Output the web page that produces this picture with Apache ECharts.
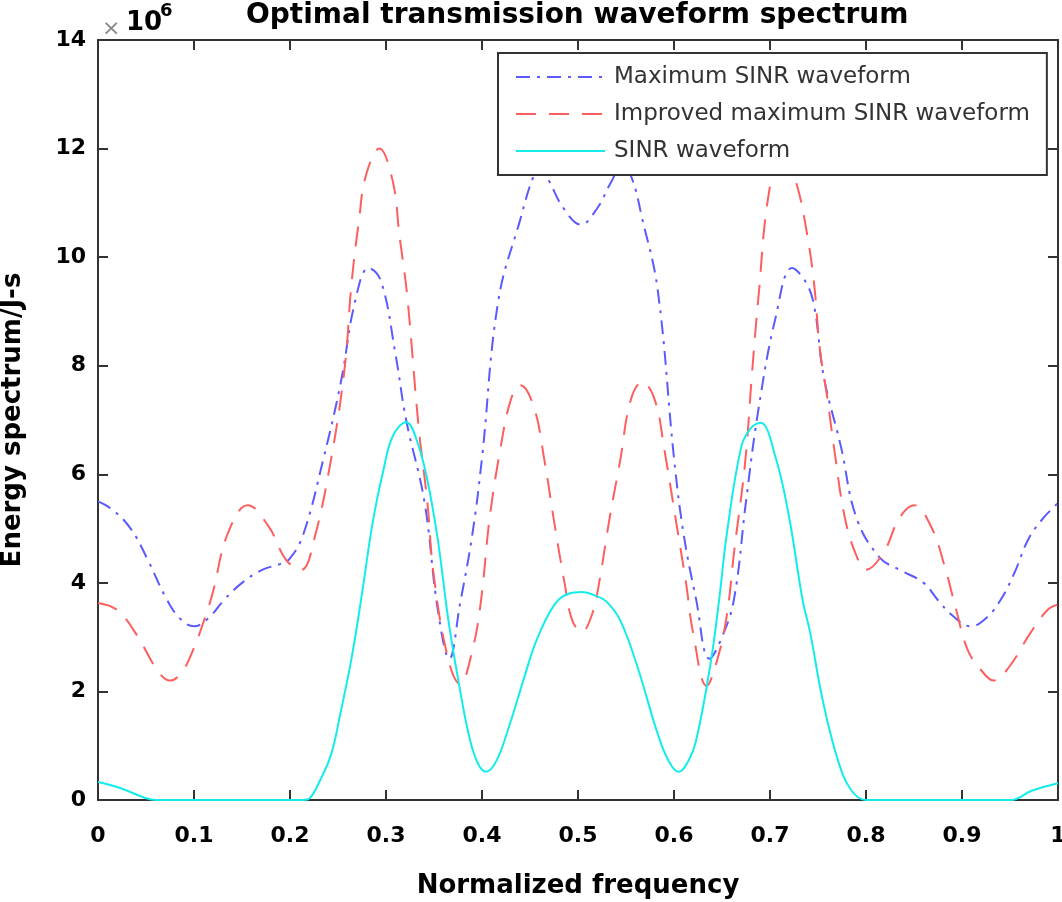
<!DOCTYPE html>
<html>
<head>
<meta charset="utf-8">
<title>Optimal transmission waveform spectrum</title>
<script src="https://cdn.jsdelivr.net/npm/echarts@6/dist/echarts.min.js"></script>
<style>
  html, body { margin: 0; padding: 0; background: #fff; }
  #chart { width: 1062px; height: 902px; }
</style>
</head>
<body>
<div id="chart"></div>
<script>
// 数据（单位：×10^6），横轴为归一化频率
var seriesNames = ['Maximum SINR waveform', 'Improved maximum SINR waveform', 'SINR waveform'];
var xTickLabels = ['0', '0.1', '0.2', '0.3', '0.4', '0.5', '0.6', '0.7', '0.8', '0.9', '1'];
var yTickLabels = ['0', '2', '4', '6', '8', '10', '12', '14'];

var freqMax = [0, 0.015, 0.034, 0.052, 0.07, 0.085, 0.1, 0.115, 0.131, 0.15, 0.171, 0.19, 0.2, 0.214,
  0.235, 0.253, 0.268, 0.282, 0.295, 0.31, 0.321, 0.34, 0.354, 0.366, 0.377, 0.39, 0.4, 0.417,
  0.44, 0.454, 0.462, 0.47, 0.485, 0.503, 0.52, 0.535, 0.545, 0.555, 0.567, 0.583, 0.6, 0.61,
  0.623, 0.637, 0.65, 0.6625, 0.675, 0.688, 0.706, 0.723, 0.737, 0.746, 0.756, 0.774, 0.79,
  0.814, 0.835, 0.86, 0.875, 0.89, 0.909, 0.925, 0.94, 0.955, 0.969, 0.985, 1];
var energyMax = [5.5, 5.35, 5.0, 4.42, 3.75, 3.35, 3.2, 3.35, 3.68, 4.0, 4.24, 4.35, 4.45, 4.9,
  6.3, 7.7, 9.2, 9.8, 9.55, 8.2, 7.0, 5.5, 3.5, 2.6, 3.6, 4.9, 6.3, 9.2,
  10.7, 11.5, 11.65, 11.4, 10.9, 10.6, 10.9, 11.4, 11.65, 11.5, 10.7, 9.4, 6.3, 4.9,
  3.7, 2.6, 3.0, 3.7, 5.5, 7.2, 8.9, 9.8, 9.55, 9.1, 7.8, 6.5, 5.2,
  4.47, 4.24, 4.0, 3.68, 3.4, 3.2, 3.35, 3.68, 4.2, 4.8, 5.2, 5.47];

var freqImp = [0, 0.02, 0.04, 0.063, 0.075, 0.087, 0.099, 0.113, 0.12, 0.135, 0.156, 0.178, 0.196,
  0.212, 0.225, 0.243, 0.257, 0.264, 0.272, 0.279, 0.293, 0.307, 0.314, 0.322, 0.334, 0.343, 0.35,
  0.365, 0.377, 0.39, 0.399, 0.408, 0.419, 0.43, 0.44, 0.454, 0.465, 0.476, 0.486, 0.494, 0.504,
  0.515, 0.522, 0.533, 0.544, 0.555, 0.567, 0.58, 0.59, 0.6015, 0.6125, 0.62, 0.634, 0.645, 0.655,
  0.6628, 0.674, 0.681, 0.688, 0.699, 0.713, 0.7275, 0.7385, 0.746, 0.752, 0.76, 0.767, 0.778,
  0.79, 0.8, 0.818, 0.835, 0.85, 0.868, 0.882, 0.894, 0.906, 0.92, 0.933, 0.949, 0.971, 0.989, 1];
var energyImp = [3.63, 3.5, 3.05, 2.36, 2.2, 2.35, 2.76, 3.44, 3.85, 4.9, 5.43, 5.03, 4.42,
  4.24, 4.79, 6.3, 7.97, 9.5, 10.7, 11.5, 12.0, 11.4, 10.4, 9.3, 6.87, 5.5, 4.1,
  2.58, 2.14, 2.76, 3.68, 5.2, 6.45, 7.37, 7.64, 7.24, 6.26, 5.03, 4.0, 3.31, 3.1,
  3.44, 4.0, 5.2, 6.26, 7.37, 7.7, 7.37, 6.45, 5.2, 4.0, 3.07, 2.1, 2.58, 3.4,
  4.6, 6.2, 7.8, 9.27, 11.2, 12.0, 11.36, 10.44, 9.5, 8.3, 7.37, 6.45, 5.2,
  4.5, 4.24, 4.55, 5.2, 5.43, 5.03, 4.3, 3.5, 2.76, 2.39, 2.2, 2.45, 3.07, 3.5, 3.6];

var freqSinr = [0, 0.023, 0.049, 0.06, 0.1, 0.15, 0.2, 0.214, 0.221, 0.231, 0.243, 0.253, 0.264,
  0.275, 0.286, 0.297, 0.307, 0.321, 0.332, 0.343, 0.354, 0.365, 0.376, 0.386, 0.395, 0.404,
  0.415, 0.429, 0.443, 0.457, 0.4755, 0.49, 0.504, 0.52, 0.53, 0.544, 0.562, 0.583, 0.595, 0.605,
  0.615, 0.623, 0.6375, 0.647, 0.655, 0.67, 0.68, 0.69, 0.706, 0.72, 0.734, 0.742, 0.755, 0.771, 0.785,
  0.8, 0.85, 0.9, 0.951, 0.9725, 1];
var energySinr = [0.33, 0.22, 0.04, 0, 0, 0, 0, 0, 0.04, 0.35, 0.85, 1.64, 2.6,
  3.8, 5.1, 6.05, 6.7, 6.96, 6.63, 5.9, 4.79, 3.31, 2.14, 1.22, 0.7, 0.52,
  0.72, 1.4, 2.2, 2.95, 3.6, 3.8, 3.83, 3.75, 3.65, 3.31, 2.45, 1.22, 0.7, 0.52,
  0.72, 1.09, 2.45, 3.68, 4.9, 6.5, 6.85, 6.95, 6.3, 5.2, 3.68, 3.07, 1.83, 0.72, 0.17,
  0, 0, 0, 0, 0.17, 0.31];

var FONT = '"DejaVu Sans", "Liberation Sans", sans-serif';
var AXIS_COLOR = '#333';

function zip(xs, ys) {
  return xs.map(function (x, i) { return [x, ys[i]]; });
}

function lineSeries(name, xs, ys, color, dash) {
  return {
    name: name,
    type: 'line',
    data: zip(xs, ys),
    smooth: 0.4,
    symbol: 'none',
    xAxisIndex: 0,
    yAxisIndex: 0,
    lineStyle: { color: color, width: 2, type: dash },
    itemStyle: { color: color }
  };
}

function frameAxis(pos, isX) {
  return {
    type: 'value',
    position: pos,
    min: 0,
    max: isX ? 1 : 14,
    interval: isX ? 0.1 : 2,
    axisLine: { show: true, onZero: false, lineStyle: { color: AXIS_COLOR, width: 2 } },
    axisTick: { show: true, inside: true, length: 10, lineStyle: { color: AXIS_COLOR, width: 2 } },
    axisLabel: { show: false },
    splitLine: { show: false }
  };
}

var xMain = frameAxis('bottom', true);
xMain.axisLabel = {
  show: true, margin: 25, color: '#000', fontFamily: FONT, fontWeight: 'bold', fontSize: 22,
  formatter: function (v) { return xTickLabels[Math.round(v * 10)]; }
};
xMain.name = 'Normalized frequency';
xMain.nameLocation = 'middle';
xMain.nameGap = 73;
xMain.nameTextStyle = { color: '#000', fontFamily: FONT, fontWeight: 'bold', fontSize: 26 };

var yMain = frameAxis('left', false);
yMain.axisLabel = {
  show: true, margin: 12, color: '#000', fontFamily: FONT, fontWeight: 'bold', fontSize: 22,
  formatter: function (v) { return yTickLabels[Math.round(v / 2)]; }
};
yMain.name = 'Energy spectrum/J-s';
yMain.nameLocation = 'middle';
yMain.nameGap = 72;
yMain.nameTextStyle = { color: '#000', fontFamily: FONT, fontWeight: 'bold', fontSize: 26 };

var chart = echarts.init(document.getElementById('chart'), null, { renderer: 'canvas' });

chart.setOption({
  backgroundColor: '#fff',
  animation: false,
  title: {
    text: 'Optimal transmission waveform spectrum',
    left: 246, top: 2, padding: 0,
    textStyle: { color: '#000', fontFamily: FONT, fontWeight: 'bold', fontSize: 28 }
  },
  grid: { left: 98, right: 4, top: 40, bottom: 102, containLabel: false, outerBoundsMode: 'none' },
  xAxis: [xMain, frameAxis('top', true)],
  yAxis: [yMain, frameAxis('right', false)],
  legend: {
    data: seriesNames,
    orient: 'vertical',
    left: 498, top: 53,
    padding: [11, 17, 11, 17],
    itemWidth: 89, itemHeight: 14, itemGap: 11,
    backgroundColor: '#fff',
    borderColor: AXIS_COLOR, borderWidth: 2, borderRadius: 0,
    itemStyle: { opacity: 0 },
    textStyle: { color: '#333', fontFamily: FONT, fontSize: 23, lineHeight: 26, padding: [0, 0, 0, 4] }
  },
  graphic: [
    { type: 'text', left: 102, top: 18, style: { text: '\u00d7', fill: '#888', font: '22px ' + FONT } },
    { type: 'text', left: 126, top: 10, style: { text: '10', fill: '#000', font: 'bold 26px ' + FONT } },
    { type: 'text', left: 160, top: 2, style: { text: '6', fill: '#000', font: 'bold 18px ' + FONT } }
  ],
  series: [
    lineSeries(seriesNames[0], freqMax, energyMax, '#5a5aff', [14, 7, 3, 7]),
    lineSeries(seriesNames[1], freqImp, energyImp, '#ff5e5e', [20, 13]),
    lineSeries(seriesNames[2], freqSinr, energySinr, '#14ecec', 'solid')
  ]
});
</script>
</body>
</html>
